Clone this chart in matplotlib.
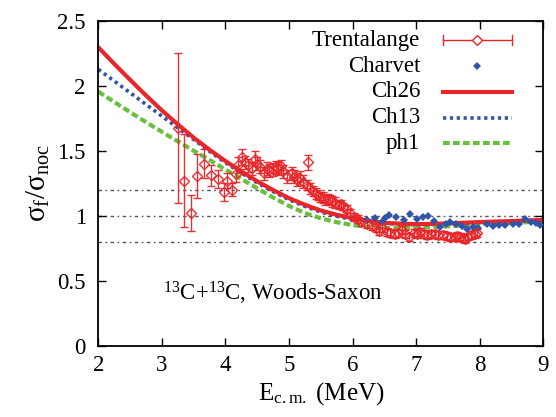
import matplotlib
matplotlib.use("Agg")
import matplotlib.pyplot as plt
import numpy as np

plt.rcParams['font.family'] = ['Liberation Serif', 'DejaVu Serif']
plt.rcParams['mathtext.fontset'] = 'custom'
plt.rcParams['mathtext.rm'] = 'Liberation Serif'
plt.rcParams['mathtext.it'] = 'Liberation Serif:italic'

# ---- model curves ----
curve_e = [2.0, 2.25, 2.5, 2.75, 3.0, 3.25, 3.5, 3.75, 4.0, 4.25, 4.5, 4.75, 5.0, 5.25, 5.5,
           5.75, 6.0, 6.25, 6.5, 6.75, 7.0, 7.25, 7.5, 7.75, 8.0, 8.25, 8.5, 8.75, 9.0]
ch26 = [2.295, 2.168, 2.045, 1.925, 1.81, 1.703, 1.60, 1.507, 1.42, 1.34, 1.265, 1.197, 1.135,
        1.084, 1.04, 1.007, 0.98, 0.961, 0.945, 0.939, 0.935, 0.937, 0.941, 0.946, 0.951,
        0.955, 0.959, 0.963, 0.967]
ch13 = [2.126, 2.036, 1.946, 1.856, 1.766, 1.676, 1.586, 1.495, 1.408, 1.328, 1.253, 1.185,
        1.123, 1.072, 1.028, 0.996, 0.97, 0.952, 0.94, 0.934, 0.931, 0.933, 0.937, 0.942,
        0.947, 0.951, 0.955, 0.96, 0.964]
ph1 = [1.954, 1.875, 1.797, 1.72, 1.645, 1.572, 1.50, 1.428, 1.355, 1.283, 1.21, 1.14, 1.075,
       1.02, 0.98, 0.95, 0.928, 0.914, 0.907, 0.905, 0.907, 0.912, 0.918, 0.926, 0.933, 0.94,
       0.945, 0.95, 0.954]

# ---- Trentalange data ----
tr_e = [3.26, 3.35, 3.46, 3.55, 3.66, 3.77, 3.88, 3.97, 4.02, 4.11, 4.17, 4.19, 4.26, 4.30,
        4.36, 4.41, 4.46, 4.50, 4.54, 4.61, 4.65, 4.69, 4.75, 4.79, 4.83, 4.87, 4.91, 4.97,
        5.04, 5.08, 5.12, 5.17, 5.215, 5.28, 5.30, 5.33, 5.38, 5.42, 5.46, 5.49, 5.53, 5.57,
        5.61, 5.645, 5.68, 5.72, 5.78, 5.82, 5.85, 5.91, 5.96, 6.02, 6.09, 6.14, 6.22, 6.30,
        6.37, 6.42, 6.47, 6.54, 6.59, 6.67, 6.72, 6.77, 6.83, 6.88, 6.96, 7.01, 7.06, 7.12,
        7.17, 7.24, 7.30, 7.35, 7.43, 7.48, 7.53, 7.61, 7.65, 7.69, 7.73, 7.77, 7.82, 7.87,
        7.92, 7.96]
tr_y = [1.675, 1.27, 1.02, 1.305, 1.40, 1.31, 1.28, 1.185, 1.27, 1.20, 1.32, 1.39, 1.45, 1.41,
        1.39, 1.365, 1.44, 1.40, 1.377, 1.326, 1.36, 1.35, 1.357, 1.37, 1.365, 1.38, 1.34, 1.305,
        1.326, 1.30, 1.275, 1.29, 1.262, 1.236, 1.41, 1.21, 1.19, 1.17, 1.16, 1.146, 1.14, 1.126,
        1.13, 1.12, 1.11, 1.10, 1.082, 1.09, 1.07, 1.05, 1.018, 0.99, 0.972, 0.954, 0.934, 0.92,
        0.903, 0.88, 0.905, 0.877, 0.865, 0.86, 0.87, 0.89, 0.86, 0.838, 0.87, 0.86, 0.877, 0.86,
        0.85, 0.857, 0.86, 0.85, 0.85, 0.845, 0.838, 0.834, 0.845, 0.838, 0.83, 0.82, 0.84, 0.85,
        0.86, 0.87]
tr_err = [0.58, 0.36, 0.14, 0.17, 0.11, 0.08, 0.07, 0.07, 0.06, 0.05, 0.06, 0.06, 0.06, 0.05,
          0.05, 0.05, 0.06, 0.05, 0.05, 0.05, 0.05, 0.05, 0.05, 0.05, 0.05, 0.05, 0.05, 0.05,
          0.05, 0.05, 0.05, 0.05, 0.05, 0.04, 0.06, 0.04, 0.04, 0.04, 0.04, 0.04, 0.04, 0.04,
          0.04, 0.04, 0.04, 0.04, 0.03, 0.03, 0.03, 0.03, 0.03, 0.03, 0.03, 0.03, 0.03, 0.03,
          0.03, 0.03, 0.03, 0.03, 0.03, 0.03, 0.03, 0.03, 0.03, 0.03, 0.03, 0.03, 0.03, 0.03,
          0.03, 0.03, 0.03, 0.03, 0.03, 0.03, 0.03, 0.03, 0.03, 0.03, 0.03, 0.03, 0.03, 0.03,
          0.03, 0.03]

# ---- Charvet data ----
ch_e = [6.22, 6.35, 6.46, 6.51, 6.58, 6.69, 6.81, 6.91, 7.02, 7.10, 7.19, 7.28, 7.375, 7.47,
        7.53, 7.62, 7.72, 7.80, 7.90, 7.98, 8.11, 8.21, 8.30, 8.40, 8.53, 8.61, 8.71, 8.80,
        8.88, 8.95]
ch_y = [0.967, 0.98, 0.954, 0.98, 1.005, 0.992, 0.97, 1.013, 0.972, 0.992, 0.995, 0.96, 0.915,
        0.94, 0.955, 0.935, 0.92, 0.895, 0.91, 0.903, 0.936, 0.92, 0.93, 0.928, 0.94, 0.934,
        0.972, 0.95, 0.945, 0.928]

ref_levels = [0.8, 1.0, 1.2]
xticks = [2, 3, 4, 5, 6, 7, 8, 9]
yticks = [0, 0.5, 1, 1.5, 2, 2.5]
ytick_labels = ['0', '0.5', '1', '1.5', '2', '2.5']

RED = '#e8262a'
BLUE = '#2f55a8'
GREEN = '#6abf3e'
FS = 16.5

fig = plt.figure(figsize=(5.56, 4.17), dpi=100)
ax = fig.add_axes([98.3 / 556, 1 - 345.7 / 417, 445 / 556, 325 / 417])

for lv in ref_levels:
    ax.axhline(lv, color='#555555', lw=1.0, ls=(0, (2.5, 2.5, 1.2, 2.5)), zorder=1)

ax.errorbar(tr_e, tr_y, yerr=tr_err, fmt='D', mfc='none', mec=RED, ms=5.5, mew=1.0,
            ecolor=RED, elinewidth=1.0, capsize=3.0, capthick=1.0, zorder=3, alpha=0.95)
ax.plot(ch_e, ch_y, 'D', color=BLUE, ms=4.5, mew=0, zorder=3)

ax.plot(curve_e, ph1, color=GREEN, lw=3.0, ls=(0, (1.6, 0.8)), zorder=2.0)
ax.plot(curve_e, ch13, color=BLUE, lw=2.6, ls=(0, (0.9, 1.0)), zorder=2.1)
ax.plot(curve_e, ch26, color=RED, lw=3.0, zorder=2.2)

ax.set_xlim(2, 9)
ax.set_ylim(0, 2.5)
ax.set_xticks(xticks)
ax.set_yticks(yticks)
ax.set_yticklabels(ytick_labels)
ax.tick_params(direction='in', length=6, width=1.0, top=True, right=True,
               labelsize=FS, pad=7)
ax.tick_params(axis='y', pad=9)
for s in ax.spines.values():
    s.set_linewidth(1.3)

ax.set_xlabel(r'$\mathregular{E_{c.m.}}$ (MeV)', fontsize=18, labelpad=3)
ax.set_ylabel(r'$\mathregular{σ_f/σ_{noc}}$', fontsize=21, labelpad=4)

ax.text(3.02, 0.35, r'$\mathregular{^{13}}$C+$\mathregular{^{13}}$C, Woods-Saxon',
        fontsize=FS, ha='left', va='baseline')

# ---- manual legend (gnuplot style) ----
labels = ['Trentalange', 'Charvet', 'Ch26', 'Ch13', 'ph1']
rows = [0.9406, 0.8606, 0.7815, 0.7015, 0.6228]
tx, l0, l1 = 0.723, 0.774, 0.930
T = ax.transAxes
for lab, ry in zip(labels, rows):
    ax.text(tx, ry, lab, transform=T, fontsize=FS, ha='right', va='center')
lm = (l0 + l1) / 2
ax.plot([l0, l1], [rows[0]] * 2, color=RED, lw=1.0, transform=T, zorder=4)
ax.plot([l0, l0], [rows[0] - 0.015, rows[0] + 0.015], color=RED, lw=1.0, transform=T)
ax.plot([l1, l1], [rows[0] - 0.015, rows[0] + 0.015], color=RED, lw=1.0, transform=T)
ax.plot([lm], [rows[0]], 'D', mfc='white', mec=RED, ms=5.5, mew=1.0, transform=T, zorder=5)
ax.plot([lm], [rows[1]], 'D', color=BLUE, ms=4.5, mew=0, transform=T)
ax.plot([l0, l1], [rows[2]] * 2, color=RED, lw=3.0, transform=T)
ax.plot([l0, l1], [rows[3]] * 2, color=BLUE, lw=2.6, ls=(0, (0.9, 1.0)), transform=T)
ax.plot([l0, l1], [rows[4]] * 2, color=GREEN, lw=3.0, ls=(0, (1.6, 0.8)), transform=T)

fig.savefig('out.png', dpi=100)
